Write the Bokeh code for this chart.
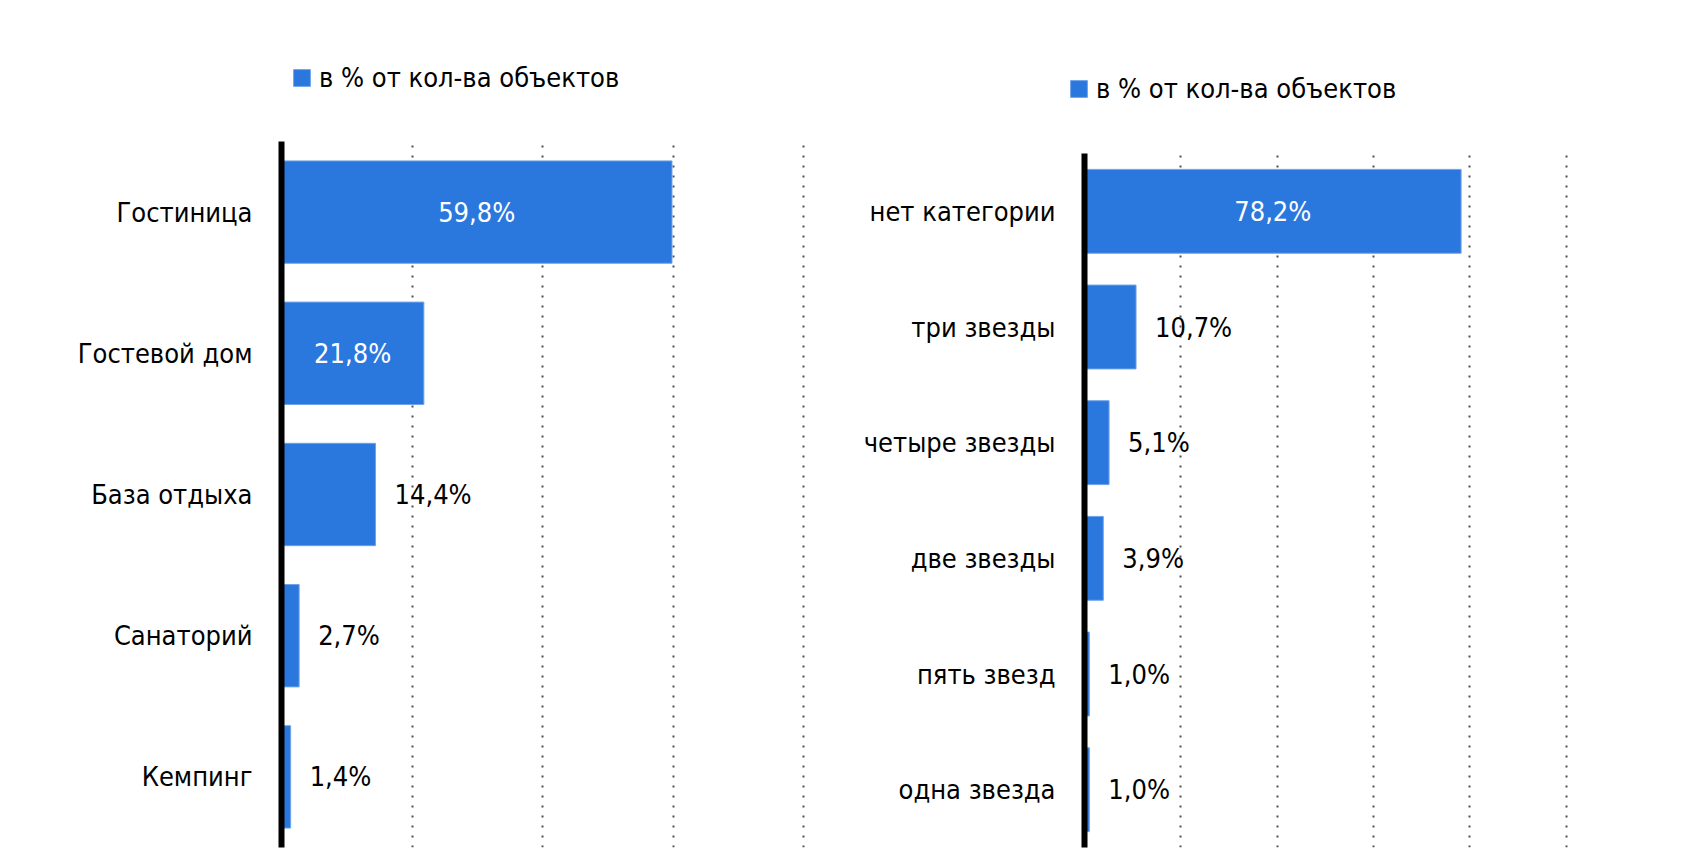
from bokeh.plotting import figure
from bokeh.models import (FactorRange, Range1d, FixedTicker, Legend, LegendItem,
                          ColumnDataSource, Spacer)
from bokeh.layouts import row, column
from bokeh.core.properties import value
from bokeh.embed import file_html
from bokeh.resources import INLINE

# ---- data ----
types = ["Гостиница", "Гостевой дом", "База отдыха", "Санаторий", "Кемпинг"]
types_pct = [59.8, 21.8, 14.4, 2.7, 1.4]
stars = ["нет категории", "три звезды", "четыре звезды", "две звезды", "пять звезд", "одна звезда"]
stars_pct = [78.2, 10.7, 5.1, 3.9, 1.0, 1.0]
series_name = "в % от кол-ва объектов"
left_ticks = [20, 40, 60, 80]
right_ticks = [20, 40, 60, 80, 100]

FONT = "DejaVu Sans Condensed"
BLUE = "#2A77DE"
EDGE = "#6FA3EA"


def make_legend(renderer, xy):
    return Legend(items=[LegendItem(label=series_name, renderers=[renderer])],
                  location=xy, orientation="horizontal",
                  border_line_color=None, background_fill_alpha=0,
                  padding=0, margin=0, spacing=0,
                  glyph_width=21, glyph_height=21, label_standoff=7,
                  label_text_font=FONT, label_text_font_size="27px",
                  label_text_color="black")


def make_legend_fig(width, height, positions):
    lf = figure(width=width, height=height, output_backend="svg", toolbar_location=None,
                x_range=Range1d(0, 1), y_range=Range1d(0, 1),
                min_border=0, min_border_left=0, min_border_right=0,
                min_border_top=0, min_border_bottom=0)
    lf.outline_line_color = None
    lf.axis.visible = False
    lf.grid.visible = False
    # legend key renderer (its single bar lies outside the visible range)
    r = lf.hbar(y=[-10], right=[1], left=0, height=0.5, fill_color=BLUE,
                line_color=EDGE, line_width=1)
    for xy in positions:
        lf.add_layout(make_legend(r, xy), "center")
    return lf


def make_chart(cats, vals, xmax, ticks, width, height, mb_left, mb_right, mb_top, mb_bottom):
    p = figure(width=width, height=height, output_backend="svg", toolbar_location=None,
               y_range=FactorRange(factors=list(reversed(cats)), range_padding=0),
               x_range=Range1d(0, xmax),
               min_border_left=mb_left, min_border_right=mb_right,
               min_border_top=mb_top, min_border_bottom=mb_bottom)
    p.outline_line_color = None
    p.background_fill_color = "white"
    p.border_fill_color = "white"

    labels = [f"{v:.1f}".replace(".", ",") + "%" for v in vals]
    inside = [v >= 20 for v in vals]
    src = ColumnDataSource(dict(
        cat=cats, val=vals, lab=labels,
        lx=[v / 2 if ins else v for v, ins in zip(vals, inside)],
        col=["white" if ins else "black" for ins in inside],
        align=["center" if ins else "left" for ins in inside],
        off=[0 if ins else 19 for ins in inside],
    ))
    p.hbar(y="cat", right="val", left=0, height=0.725, source=src,
           fill_color=BLUE, line_color=EDGE, line_width=1)
    p.text(x="lx", y="cat", text="lab", source=src, text_color="col",
           text_align="align", x_offset="off", text_baseline="middle",
           text_font=value(FONT), text_font_size="27px")

    p.xaxis.visible = False
    p.xgrid.ticker = FixedTicker(ticks=ticks)
    p.xgrid.grid_line_color = "#505050"
    p.xgrid.grid_line_width = 2
    p.xgrid.grid_line_dash = "2 8"
    p.ygrid.visible = False

    ax = p.yaxis[0]
    ax.axis_line_color = "black"
    ax.axis_line_width = 6
    ax.major_tick_line_color = None
    ax.minor_tick_line_color = None
    ax.major_tick_out = 0
    ax.major_tick_in = 0
    ax.major_label_standoff = 29
    ax.major_label_text_font = FONT
    ax.major_label_text_font_size = "27px"
    ax.major_label_text_color = "black"
    return p


TOTAL_H = 850
TOP = 141
GAP2 = 12
leg_fig = make_legend_fig(1672, TOP, [(291, 48), (1068, 37)])
p1 = make_chart(types, types_pct, 80.4, left_ticks, 836, TOTAL_H - TOP, 281, 30, 0, 3)
p2 = make_chart(stars, stars_pct, 100.5, right_ticks, 836, TOTAL_H - TOP - GAP2, 248, 104, 0, 3)

right_col = column(Spacer(width=836, height=GAP2), p2, spacing=0)
layout = column(leg_fig, row(p1, right_col, spacing=0), spacing=0)
open("out.html", "w").write(file_html(layout, INLINE))
